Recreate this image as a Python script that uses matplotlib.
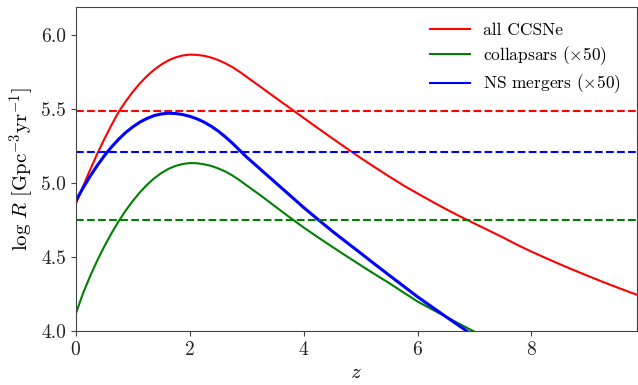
import numpy as np
import matplotlib.pyplot as plt

plt.rcParams['font.family'] = 'serif'
plt.rcParams['font.serif'] = ['cmr10']
plt.rcParams['mathtext.fontset'] = 'cm'
plt.rcParams['axes.formatter.use_mathtext'] = True

# redshift grid and log rates
z = [0, 0.125, 0.25, 0.375, 0.5, 0.625, 0.75, 0.875, 1.0, 1.125, 1.25,
     1.375, 1.5, 1.625, 1.75, 1.875, 2.0, 2.125, 2.25, 2.375, 2.5, 2.625,
     2.75, 2.875, 3.0, 3.25, 3.5, 3.75, 4.0, 4.25, 4.5, 4.75, 5.0, 5.25,
     5.5, 5.75, 6.0, 6.25, 6.5, 6.75, 7.0, 7.25, 7.5, 7.75, 8.0, 8.25, 8.5,
     8.75, 9.0, 9.25, 9.5, 9.75, 10.0]
ccsne = [4.86, 4.977, 5.09, 5.198, 5.298, 5.392, 5.48, 5.552, 5.617, 5.674,
         5.724, 5.766, 5.801, 5.829, 5.849, 5.862, 5.868, 5.866, 5.86, 5.848,
         5.831, 5.809, 5.783, 5.752, 5.717, 5.648, 5.578, 5.509, 5.44, 5.371,
         5.303, 5.236, 5.17, 5.107, 5.045, 4.985, 4.93, 4.876, 4.824, 4.774,
         4.727, 4.68, 4.633, 4.583, 4.537, 4.494, 4.452, 4.411, 4.372, 4.333,
         4.296, 4.26, 4.225]
collapsars = [4.12, 4.255, 4.372, 4.477, 4.573, 4.661, 4.742, 4.815, 4.88,
              4.938, 4.989, 5.032, 5.068, 5.096, 5.116, 5.129, 5.135, 5.134,
              5.127, 5.116, 5.099, 5.078, 5.051, 5.019, 4.984, 4.915, 4.842,
              4.77, 4.70, 4.634, 4.57, 4.507, 4.445, 4.384, 4.325, 4.262,
              4.20, 4.148, 4.097, 4.046, 3.996, 3.945, 3.895, 3.847, 3.8,
              3.75, 3.7, 3.65, 3.6, 3.55, 3.5, 3.45, 3.4]
mergers = [4.881, 4.967, 5.047, 5.119, 5.185, 5.244, 5.296, 5.342, 5.38,
           5.412, 5.437, 5.456, 5.467, 5.472, 5.47, 5.463, 5.451, 5.434,
           5.412, 5.384, 5.351, 5.312, 5.269, 5.222, 5.175, 5.09, 5.005,
           4.92, 4.835, 4.755, 4.676, 4.601, 4.527, 4.452, 4.378, 4.305,
           4.232, 4.164, 4.097, 4.031, 3.965, 3.897, 3.83, 3.765, 3.7,
           3.635, 3.57, 3.505, 3.44, 3.37, 3.3, 3.235, 3.17]

# horizontal reference levels
ccsne_ref = 5.486
collapsar_ref = 4.752
merger_ref = 5.208

fig = plt.figure(figsize=(6.38, 3.85), dpi=100)
ax = fig.add_axes([0.119, 0.140, 0.879, 0.842])

ax.plot(z, ccsne, color='red', lw=1.5, label='all CCSNe')
ax.plot(z, collapsars, color='green', lw=1.5, label=r'collapsars ($\times 50$)')
ax.plot(z, mergers, color='blue', lw=2.2, label=r'NS mergers ($\times 50$)')

ax.axhline(ccsne_ref, color='red', ls='--', lw=1.5)
ax.axhline(merger_ref, color='blue', ls='--', lw=1.5)
ax.axhline(collapsar_ref, color='green', ls='--', lw=1.5)

ax.set_xlim(0, 9.85)
ax.set_ylim(4.0, 6.19)
ax.set_xticks([0, 2, 4, 6, 8])
ax.set_yticks([4.0, 4.5, 5.0, 5.5, 6.0])
ax.set_yticklabels(['4.0', '4.5', '5.0', '5.5', '6.0'])

for s in ax.spines.values():
    s.set_color('#444444')
ax.tick_params(colors='#444444', labelsize=14, labelcolor='#222222')

ax.set_xlabel(r'$z$', fontsize=15)
ax.set_ylabel(r'$\log\,R\ [\mathrm{Gpc}^{-3}\mathrm{yr}^{-1}]$', fontsize=15)

leg = ax.legend(loc='upper right', frameon=False, fontsize=12.5,
                handlelength=2.28, handletextpad=0.77, labelspacing=0.35)
for h in leg.legend_handles:
    h.set_linewidth(1.5)

fig.savefig('out.png', dpi=100)
